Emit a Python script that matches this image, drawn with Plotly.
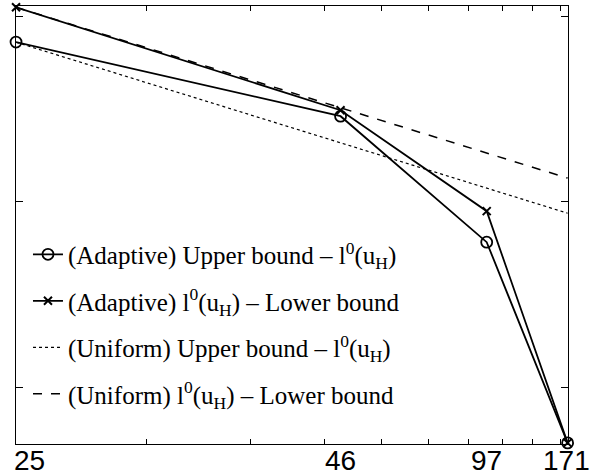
import math
import plotly.graph_objects as go

# Mesh sizes (degrees of freedom) shown on the horizontal axis
dof_labels = ["25", "46", "97", "171"]
# Position of each refinement level on the logarithmic x axis
x_adaptive = [1.206, 4.26, 7.52, 10.3]
x_uniform = [1.206, 10.3]

# Error bounds (log-scale values)
adaptive_upper = [10 ** -1.140, 10 ** -1.539, 10 ** -2.217, 10 ** -3.297]
adaptive_lower = [10 ** -0.953, 10 ** -1.507, 10 ** -2.050, 10 ** -3.297]
uniform_upper = [10 ** -1.141, 10 ** -2.061]
uniform_lower = [10 ** -0.953, 10 ** -1.872]

names = [
    "(Adaptive) Upper bound \u2013 l<sup>0</sup>(u<sub>H</sub>)",
    "(Adaptive) l<sup>0</sup>(u<sub>H</sub>) \u2013 Lower bound",
    "(Uniform) Upper bound \u2013 l<sup>0</sup>(u<sub>H</sub>)",
    "(Uniform) l<sup>0</sup>(u<sub>H</sub>) \u2013 Lower bound",
]

fig = go.Figure()
fig.add_trace(go.Scatter(
    x=x_adaptive, y=adaptive_upper, name=names[0], legendgroup="a",
    mode="lines+markers", cliponaxis=False,
    line=dict(color="black", width=1.8),
    marker=dict(symbol="circle-open", size=11, color="black", line=dict(width=1.8)),
))
fig.add_trace(go.Scatter(
    x=x_adaptive, y=adaptive_lower, name=names[1], legendgroup="b",
    mode="lines+markers", cliponaxis=False,
    line=dict(color="black", width=1.8),
    marker=dict(symbol="x-thin-open", size=8, color="black", line=dict(width=2)),
))
fig.add_trace(go.Scatter(
    x=x_uniform, y=uniform_upper, name=names[2], legendgroup="c",
    mode="lines", line=dict(color="black", width=1.2, dash="dot"),
))
fig.add_trace(go.Scatter(
    x=x_uniform, y=uniform_lower, name=names[3], legendgroup="d",
    mode="lines", line=dict(color="black", width=1.5, dash="dash"),
))

# DOF labels under the axis (annotation x is in log10 units on a log axis);
# the outermost ones are kept inside the figure
label_anchor = ["left", "center", "center", "right"]
label_shift = [-4, 0, 0, 24]
for xv, txt, anc, sh in zip(x_adaptive, dof_labels, label_anchor, label_shift):
    fig.add_annotation(
        x=math.log10(xv), xref="x", y=0, yref="paper", text=txt, showarrow=False,
        xanchor=anc, yanchor="middle", xshift=sh, yshift=-16,
        font=dict(family="Liberation Sans", size=28, color="black"),
    )

fig.update_layout(
    width=593, height=476,
    margin=dict(l=16, r=25, t=6, b=32),
    paper_bgcolor="white", plot_bgcolor="white",
    showlegend=True,
    legend=dict(
        x=0.0217, xanchor="left", y=0.485, yanchor="top",
        bgcolor="rgba(0,0,0,0)", borderwidth=0, valign="bottom",
        font=dict(family="Liberation Serif", size=25, color="black"),
        tracegroupgap=11,
    ),
)

fig.update_xaxes(
    type="log", range=[0.0813, 1.0135], automargin=False,
    tickvals=[2, 3, 4, 5, 6, 7, 8, 9, 10], showticklabels=False,
    ticks="inside", ticklen=5, tickcolor="black",
    showline=True, linecolor="black", linewidth=1, mirror="ticks",
    showgrid=False, zeroline=False,
)
fig.update_yaxes(
    type="log", range=[-3.303, -0.946], automargin=False,
    tickvals=[0.1, 0.01, 0.001], showticklabels=False,
    ticks="inside", ticklen=7, tickcolor="black",
    showline=True, linecolor="black", linewidth=1, mirror="ticks",
    showgrid=False, zeroline=False,
)

fig.write_html("out.html")
